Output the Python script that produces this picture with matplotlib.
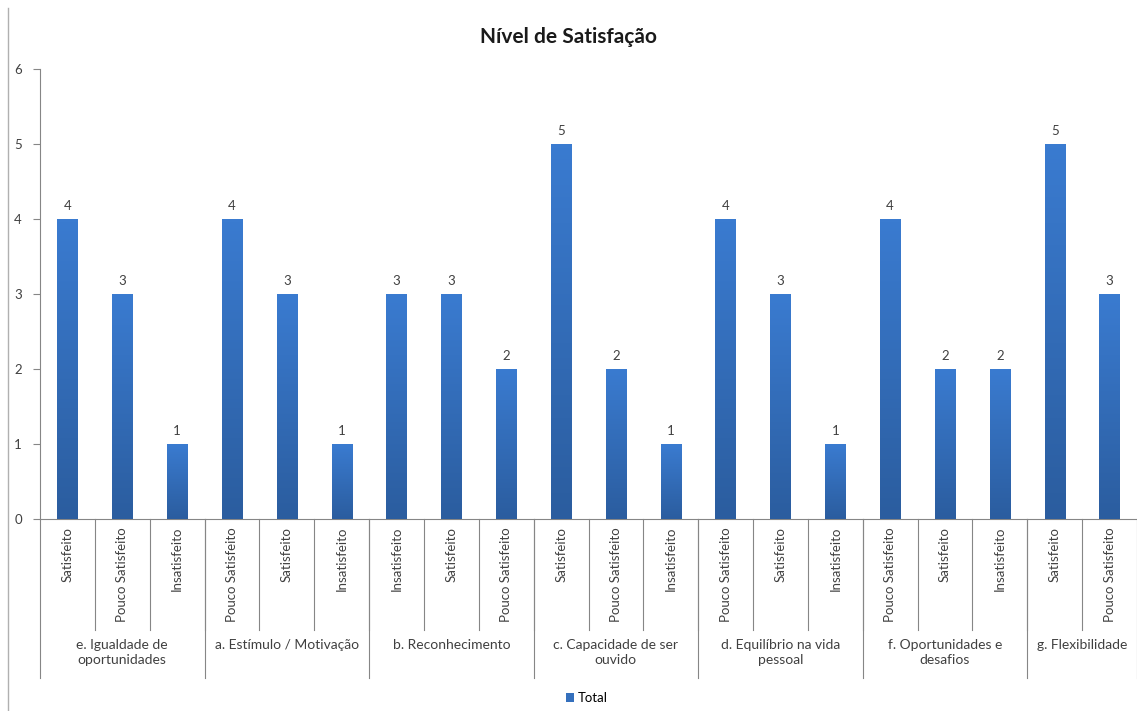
import numpy as np
import matplotlib
matplotlib.use("Agg")
import matplotlib.pyplot as plt
import matplotlib.transforms as mtransforms
from matplotlib.colors import LinearSegmentedColormap
from matplotlib.lines import Line2D
from matplotlib.patches import Patch

plt.rcParams['font.family'] = ['Lato', 'DejaVu Sans']

groups = ["e. Igualdade de\noportunidades", "a. Estímulo / Motivação", "b. Reconhecimento",
          "c. Capacidade de ser\nouvido", "d. Equilíbrio na vida\npessoal",
          "f. Oportunidades e\ndesafios", "g. Flexibilidade"]
sub_labels = [
    ["Satisfeito", "Pouco Satisfeito", "Insatisfeito"],
    ["Pouco Satisfeito", "Satisfeito", "Insatisfeito"],
    ["Insatisfeito", "Satisfeito", "Pouco Satisfeito"],
    ["Satisfeito", "Pouco Satisfeito", "Insatisfeito"],
    ["Pouco Satisfeito", "Satisfeito", "Insatisfeito"],
    ["Pouco Satisfeito", "Satisfeito", "Insatisfeito"],
    ["Satisfeito", "Pouco Satisfeito"],
]
totals = [
    [4, 3, 1],
    [4, 3, 1],
    [3, 3, 2],
    [5, 2, 1],
    [4, 3, 1],
    [4, 2, 2],
    [5, 3],
]

labels = [s for g in sub_labels for s in g]
values = [v for g in totals for v in g]
x = np.arange(len(values))

fig = plt.figure(figsize=(11.37, 7.11), dpi=100)
ax = fig.add_axes([40 / 1137, 1 - 519 / 711, 1097 / 1137, 450 / 711])

grey = "#868686"
text_c = "#404040"
bars = ax.bar(x, values, width=0.37, color="#3570bd", zorder=2)

# vertical gradient on each bar, like the Excel fill
cmap = LinearSegmentedColormap.from_list("bl", ["#2b5d9f", "#3a7bd0"])
grad = np.linspace(0, 1, 100).reshape(-1, 1)
for b in bars:
    x0, w, h = b.get_x(), b.get_width(), b.get_height()
    ax.imshow(grad, extent=[x0, x0 + w, 0, h], origin="lower", aspect="auto",
              cmap=cmap, zorder=3)
    ax.text(x0 + w / 2, h + 0.09, str(int(h)), ha="center", va="bottom",
            fontsize=9.5, color=text_c)

ax.set_xlim(-0.5, len(values) - 0.5)
ax.set_ylim(0, 6)
ax.set_yticks(range(0, 7))
ax.tick_params(axis="y", length=5, color=grey, labelcolor=text_c, labelsize=9.5, pad=8)
ax.set_xticks([])
for s in ["top", "right"]:
    ax.spines[s].set_visible(False)
for s in ["left", "bottom"]:
    ax.spines[s].set_color(grey)

trans = mtransforms.blended_transform_factory(ax.transData, ax.transAxes)

# subcategory labels and short dividers
for i, lab in enumerate(labels):
    ax.text(i, -0.018, lab, rotation=90, ha="center", va="top", fontsize=9.5,
            color=text_c, transform=trans)
for i in range(1, len(values)):
    ax.plot([i - 0.5, i - 0.5], [0, -0.247], color=grey, lw=0.8,
            transform=trans, clip_on=False)

# group labels and long dividers
start = 0
bounds = [0]
for g, sl in zip(groups, sub_labels):
    n = len(sl)
    ax.text(start + (n - 1) / 2, -0.266, g, ha="center", va="top", fontsize=10,
            color=text_c, transform=trans, linespacing=1.3)
    start += n
    bounds.append(start)
for b in bounds:
    ax.plot([b - 0.5, b - 0.5], [0, -0.353], color=grey, lw=0.8,
            transform=trans, clip_on=False)

fig.text(0.5, 1 - 37 / 711, "Nível de Satisfação", ha="center", va="center",
         fontsize=15, fontweight="bold", color="#1a1a1a")

fig.legend(handles=[Patch(facecolor="#3570bd", label="Total")], loc="center",
           bbox_to_anchor=(587 / 1137, 1 - 698 / 711), frameon=False, fontsize=9.5,
           handlelength=0.6, handleheight=0.6, handletextpad=0.3)

# chart area border on the left
fig.add_artist(Line2D([8 / 1137, 8 / 1137], [0.0, 1 - 8 / 711], color="#b0b0b0", lw=1))

fig.savefig("out.png", dpi=100)
